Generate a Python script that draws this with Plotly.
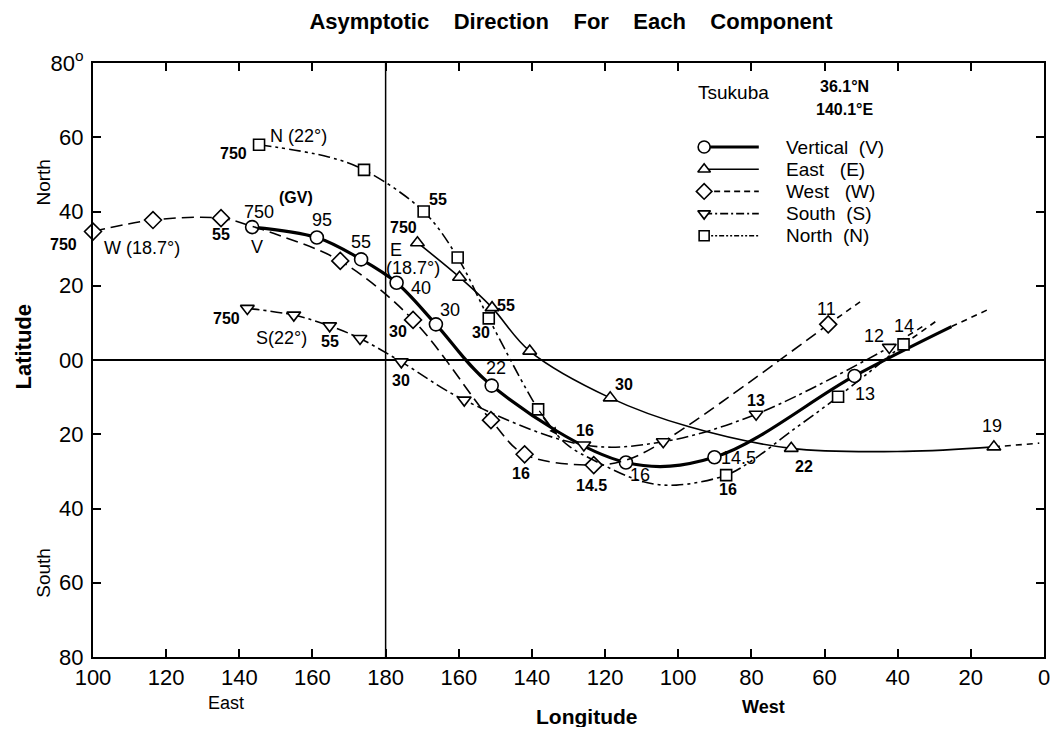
import plotly.graph_objects as go

# Longitude is measured eastward (0-360): east side 100..180, west side = 360 - W
X_TICKS = [100, 120, 140, 160, 180, 200, 220, 240, 260, 280, 300, 320, 340, 360]
X_TICK_TEXT = ["100", "120", "140", "160", "180", "160", "140", "120", "100", "80", "60", "40", "20", "0"]
Y_TICKS = [80, 60, 40, 20, 0, -20, -40, -60, -80]
Y_TICK_TEXT = ["80<sup>o</sup>", "60", "40", "20", "00", "20", "40", "60", "80"]

# Vertical (V)
V_lon = [143.5, 161.2, 173.3, 183.0, 193.75, 209.0, 245.7, 269.9, 308.2, 334.7]
V_lat = [35.8, 33.0, 27.1, 20.8, 9.6, -6.9, -27.6, -26.2, -4.3, 9.0]
V_mark = [1, 1, 1, 1, 1, 1, 1, 1, 1, 0]
V_arrow = (345.6, 14.0)

# East (E)
E_lon = [188.7, 200.2, 209.1, 219.4, 241.4, 263.0, 290.9, 322.0, 346.3]
E_lat = [31.6, 22.3, 14.1, 2.4, -10.2, -18.0, -23.8, -24.6, -23.4]
E_mark = [1, 1, 1, 1, 1, 0, 1, 0, 1]
E_arrow = (358.7, -22.4)

# West (W)
W_lon = [100.0, 116.4, 135.0, 143.5, 150.8, 167.6, 187.5, 208.8, 218.0, 236.9, 245.6, 255.7, 301.0]
W_lat = [34.6, 37.7, 38.2, 36.0, 33.6, 26.7, 10.8, -16.2, -25.4, -28.3, -27.0, -22.1, 9.6]
W_mark = [1, 1, 1, 0, 0, 1, 1, 1, 1, 1, 0, 0, 1]
W_arrow = (310.2, 16.0)

# South (S)
S_lon = [142.2, 154.9, 164.7, 173.0, 184.3, 201.5, 234.2, 255.9, 281.3, 317.7]
S_lat = [13.9, 12.1, 9.2, 5.8, -0.5, -10.8, -22.9, -22.0, -14.6, 3.4]
S_mark = [1, 1, 1, 1, 1, 1, 1, 1, 1, 1]
S_arrow = (327.4, 9.4)

# North (N)
N_lon = [145.4, 164.4, 174.1, 190.4, 199.7, 208.2, 221.7, 226.9, 230.4, 236.9, 250.5, 259.5, 273.1, 280.3, 290.2, 303.7, 321.6]
N_lat = [58.0, 54.7, 51.2, 40.0, 27.6, 11.2, -13.3, -20.2, -23.4, -27.0, -32.8, -33.7, -31.0, -27.0, -19.7, -9.9, 4.2]
N_mark = [1, 0, 1, 1, 1, 1, 1, 0, 0, 0, 0, 0, 1, 0, 0, 1, 1]
N_arrow = (331.0, 10.8)
N_mid_arrow_index = 7

# Point labels: (text, lon, lat, bold)
LABELS = [
    ("750", 138.3, 55.5, True), ("55", 194.3, 43.1, True), ("750", 184.8, 35.8, True),
    ("55", 212.8, 14.8, True), ("30", 206.0, 7.3, True), ("30", 183.4, 7.8, True),
    ("30", 184.2, -5.4, True), ("55", 164.9, 4.9, True), ("750", 136.4, 11.3, True),
    ("55", 135.1, 33.7, True), ("(GV)", 155.4, 43.9, True),
    ("30", 245.1, -6.7, True), ("16", 234.5, -18.9, True), ("16", 217.1, -30.7, True),
    ("14.5", 236.4, -33.7, True), ("16", 273.6, -35.0, True), ("13", 281.3, -10.8, True),
    ("22", 294.3, -28.6, True),
    ("V", 144.8, 30.5, False), ("W (18.7°)", 113.3, 30.2, False), ("750", 145.4, 39.9, False),
    ("95", 162.5, 37.7, False), ("55", 173.4, 31.8, False), ("E", 182.9, 29.6, False),
    ("(18.7°)", 187.5, 24.8, False), ("40", 189.7, 19.4, False), ("30", 197.6, 13.5, False),
    ("22", 210.1, -2.2, False), ("N (22°)", 156.3, 60.4, False), ("S(22°)", 151.4, 5.9, False),
    ("16", 249.5, -31.0, False), ("14.5", 276.6, -26.4, False), ("13", 311.1, -9.2, False),
    ("12", 313.6, 6.5, False), ("14", 321.7, 9.2, False), ("11", 300.5, 13.7, False),
    ("19", 345.9, -17.8, False),
]
# label sitting just outside the left axis (paper coordinates of the plot area)
W750_LABEL = ("750", -0.031, 0.694)

SERIES = [
    ("Vertical  (V)", V_lon, V_lat, V_mark, V_arrow, "circle", "solid", 3.2, 13),
    ("East   (E)", E_lon, E_lat, E_mark, E_arrow, "triangle-up", "solid", 1.6, 12),
    ("West   (W)", W_lon, W_lat, W_mark, W_arrow, "diamond", "12px,6px", 1.6, 13),
    ("South  (S)", S_lon, S_lat, S_mark, S_arrow, "triangle-down", "12px,4px,3px,4px", 1.6, 12),
    ("North  (N)", N_lon, N_lat, N_mark, N_arrow, "square", "12px,4px,3px,4px,3px,4px", 1.6, 11),
]
LEGEND_DASH = ["solid", "solid", "6px,4px", "8px,3px,2px,3px", "5px,2px,2px,2px,2px,2px"]

# legend layout (paper fractions of the plot area)
LEG_SYM_X = (708 - 93) / 957
LEG_LINE_END_X = (763 - 93) / 957
LEG_TEXT_X = (788 - 93) / 957
LEG_TOP_Y = 1 - (147 - 63) / 594
LEG_STEP = 22.2 / 594

REG = "Liberation Sans, Arial, sans-serif"
BOLD = "Liberation Sans, Arial, sans-serif"

fig = go.Figure()
annotations = []

for k, (name, lon, lat, mark, arrow, sym, dash, width, msize) in enumerate(SERIES):
    fig.add_trace(go.Scatter(
        x=lon, y=lat, mode="lines", showlegend=False, hoverinfo="skip",
        line=dict(color="black", width=width, dash=dash, shape="spline", smoothing=1.0)))
    # dashed extension toward the arrow
    fig.add_trace(go.Scatter(
        x=[lon[-1], arrow[0]], y=[lat[-1], arrow[1]], mode="lines", showlegend=False,
        hoverinfo="skip", line=dict(color="black", width=1.6, dash="6px,5px")))
    dx = arrow[0] - lon[-1]
    dy = arrow[1] - lat[-1]
    annotations.append(dict(
        x=arrow[0], y=arrow[1], ax=arrow[0] - 0.05 * dx, ay=arrow[1] - 0.05 * dy,
        xref="x", yref="y", axref="x", ayref="y", text="", showarrow=True,
        arrowhead=2, arrowsize=1.3, arrowwidth=1.6, arrowcolor="black", standoff=0))
    mx = [x for x, m in zip(lon, mark) if m]
    my = [y for y, m in zip(lat, mark) if m]
    fig.add_trace(go.Scatter(
        x=mx, y=my, mode="markers", showlegend=False, cliponaxis=False, hoverinfo="skip",
        marker=dict(symbol=sym, size=msize, color="white",
                    line=dict(color="black", width=1.6))))
    # legend key on an overlay axis spanning the plot area (0..1)
    ly = LEG_TOP_Y - k * LEG_STEP
    fig.add_trace(go.Scatter(
        x=[LEG_SYM_X, LEG_LINE_END_X], y=[ly, ly], xaxis="x2", yaxis="y2",
        mode="lines", showlegend=False, hoverinfo="skip",
        line=dict(color="black", width=width if width > 2 else 1.6, dash=LEGEND_DASH[k])))
    fig.add_trace(go.Scatter(
        x=[LEG_SYM_X], y=[ly], xaxis="x2", yaxis="y2", mode="markers",
        showlegend=False, hoverinfo="skip", cliponaxis=False,
        marker=dict(symbol=sym, size=msize - 1, color="white",
                    line=dict(color="black", width=1.6))))
    annotations.append(dict(
        x=LEG_TEXT_X, y=ly, xref="paper", yref="paper", text=name, showarrow=False,
        xanchor="left", yanchor="middle", font=dict(family=REG, size=19, color="black")))

# mid-curve arrow on the North curve
i = N_mid_arrow_index
annotations.append(dict(
    x=N_lon[i], y=N_lat[i], ax=N_lon[i - 1], ay=N_lat[i - 1],
    xref="x", yref="y", axref="x", ayref="y", text="", showarrow=True,
    arrowhead=2, arrowsize=1.3, arrowwidth=1.2, arrowcolor="black", standoff=0))

for txt, x, y, bold in LABELS:
    annotations.append(dict(
        x=x, y=y, xref="x", yref="y", text=("<b>%s</b>" % txt) if bold else txt,
        showarrow=False, xanchor="center", yanchor="middle",
        font=dict(family=BOLD if bold else REG, size=16 if bold else 18, color="black")))
annotations.append(dict(
    x=W750_LABEL[1], y=W750_LABEL[2], xref="paper", yref="paper",
    text="<b>%s</b>" % W750_LABEL[0], showarrow=False, xanchor="center", yanchor="middle",
    font=dict(family=BOLD, size=16, color="black")))

# station info
annotations += [
    dict(x=275.0, y=72.0, xref="x", yref="y", text="Tsukuba", showarrow=False,
         font=dict(family=REG, size=19, color="black")),
    dict(x=305.5, y=73.6, xref="x", yref="y", text="<b>36.1°N</b>", showarrow=False,
         font=dict(family=REG, size=16, color="black")),
    dict(x=305.5, y=67.6, xref="x", yref="y", text="<b>140.1°E</b>", showarrow=False,
         font=dict(family=REG, size=16, color="black")),
]

# axis labels (centres in paper fractions of the plot area)
AXIS_TEXTS = [
    ("<b>Latitude</b>", -0.073, 0.522, -90, 22),
    ("North", -0.052, 0.798, -90, 19),
    ("South", -0.052, 0.141, -90, 19),
    ("<b>Longitude</b>", 0.519, -0.101, 0, 21),
    ("East", 0.140, -0.078, 0, 18),
    ("<b>West</b>", 0.705, -0.084, 0, 18),
]
for txt, x, y, ang, size in AXIS_TEXTS:
    annotations.append(dict(
        x=x, y=y, xref="paper", yref="paper", text=txt, textangle=ang, showarrow=False,
        xanchor="center", yanchor="middle", font=dict(family=REG, size=size, color="black")))

# page body adds an 8px margin; the figure is sized to fit inside the window
W_FIG, H_FIG = 1045, 719
GAP = "\u00a0" * 4
fig.update_layout(
    width=W_FIG, height=H_FIG,
    margin=dict(l=85, r=3, t=55, b=70),
    paper_bgcolor="white", plot_bgcolor="white",
    title=dict(text="<b>" + GAP.join(["Asymptotic", "Direction", "For", "Each", "Component"]) + "</b>",
               x=(571 - 8) / W_FIG, xanchor="center", y=1 - 13.5 / H_FIG, yanchor="middle",
               font=dict(family=BOLD, size=22, color="black")),
    showlegend=False,
    annotations=annotations,
    shapes=[dict(type="line", xref="x", yref="paper", x0=180, x1=180, y0=0, y1=1,
                 line=dict(color="black", width=1.5))],
    xaxis2=dict(range=[0, 1], overlaying="x", visible=False, fixedrange=True),
    yaxis2=dict(range=[0, 1], overlaying="y", visible=False, fixedrange=True),
    xaxis=dict(range=[100, 360], tickvals=X_TICKS, ticktext=X_TICK_TEXT,
               showline=True, linecolor="black", linewidth=2, mirror="ticks",
               ticks="inside", ticklen=8, tickwidth=1.5, tickcolor="black",
               showgrid=False, zeroline=False, ticklabeloverflow="allow",
               tickfont=dict(family=REG, size=22, color="black")),
    yaxis=dict(range=[-80, 80], tickvals=Y_TICKS, ticktext=Y_TICK_TEXT,
               showline=True, linecolor="black", linewidth=2, mirror="ticks",
               ticks="inside", ticklen=8, tickwidth=1.5, tickcolor="black",
               showgrid=False, zeroline=True, zerolinecolor="black", zerolinewidth=1.5,
               ticklabelstandoff=3, ticklabeloverflow="allow",
               tickfont=dict(family=REG, size=22, color="black")),
)

fig.write_html("out.html")
